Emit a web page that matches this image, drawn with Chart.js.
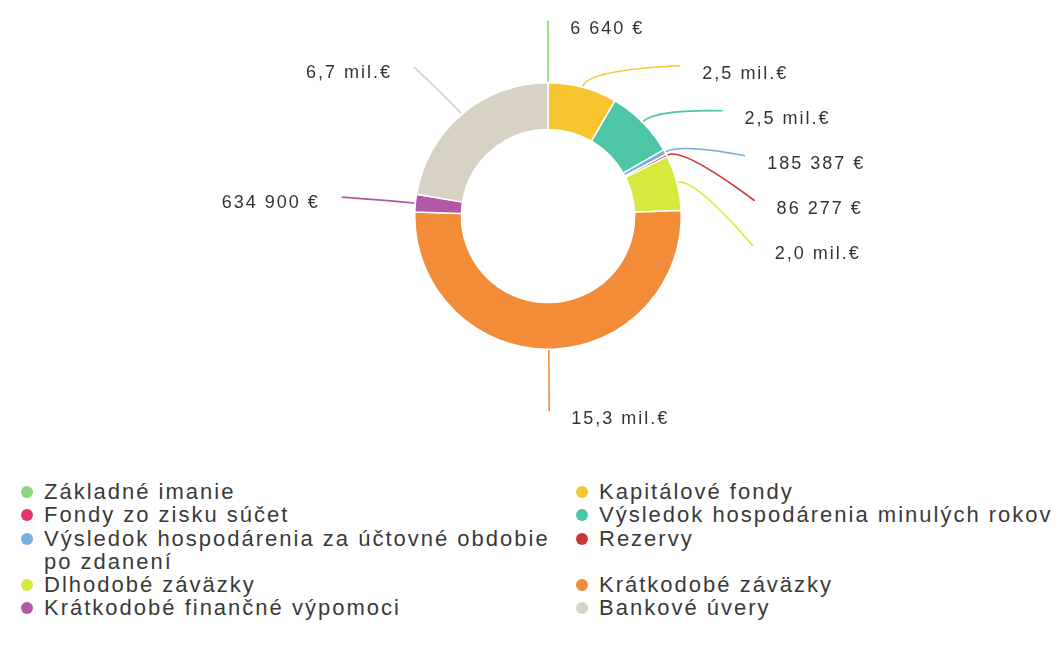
<!DOCTYPE html>
<html>
<head>
<meta charset="utf-8">
<script src="https://cdn.jsdelivr.net/npm/chart.js@4"></script>
<style>
    body { margin: 0; background: #ffffff; }
    #wrap { position: absolute; left: 0; top: 0; width: 1059px; height: 470px; }
    #legend {
        position: absolute; left: 20px; top: 480px; width: 1040px;
        display: grid; grid-template-columns: 555px 480px;
        font-family: 'Liberation Sans', Arial, sans-serif; font-size: 22px;
        letter-spacing: 2px; line-height: 23.3px; color: #3a3a3a;
    }
    .item { position: relative; padding-left: 24px; }
    .dot { position: absolute; left: 1px; top: 6px; width: 12px; height: 12px; border-radius: 50%; }
</style>
</head>
<body>
<div id="wrap"><canvas id="pasivaChart" width="1059" height="470"></canvas></div>
<div id="legend"></div>
<script>
// Štruktúra pasív (údaje odčítané z grafu)
const categories = [
    'Základné imanie',
    'Kapitálové fondy',
    'Fondy zo zisku súčet',
    'Výsledok hospodárenia minulých rokov',
    'Výsledok hospodárenia za účtovné obdobie po zdanení',
    'Rezervy',
    'Dlhodobé záväzky',
    'Krátkodobé záväzky',
    'Krátkodobé finančné výpomoci',
    'Bankové úvery'
];
const values = [6640, 2500000, 0, 2500000, 185387, 86277, 2000000, 15300000, 634900, 6700000];
const colors = ['#8fd47c', '#f6c530', '#e4336c', '#4cc6a6', '#78aedb', '#cc3636', '#d5ea3c', '#f28c39', '#b158a6', '#d8d2c5'];

const FONT = "'Liberation Sans', Arial, sans-serif";

function formatEur(v) {
    if (v >= 1000000) return (v / 1000000).toFixed(1).replace('.', ',') + ' mil.€';
    return String(v).replace(/\B(?=(\d{3})+(?!\d))/g, ' ') + ' €';
}

// popisky mimo prstenca s vodiacimi čiarami
const outLabels = {
    id: 'outLabels',
    afterDraw(chart) {
        const ctx = chart.ctx;
        const arcs = chart.getDatasetMeta(0).data;
        const items = [];
        arcs.forEach((arc, i) => {
            if (!values[i]) return;
            const a = (arc.startAngle + arc.endAngle) / 2;
            const R = arc.outerRadius;
            const rx = R + 74, ry = R + 62;
            items.push({
                i, a, R, cx: arc.x, cy: arc.y, rx, ry,
                right: Math.cos(a) >= -0.01,
                y: arc.y + Math.sin(a) * ry
            });
        });
        // rozostup na pravej strane
        const rightSide = items.filter(d => d.right).sort((p, q) => p.y - q.y);
        for (let k = 1; k < rightSide.length; k++) {
            if (rightSide[k].y < rightSide[k - 1].y + 45) rightSide[k].y = rightSide[k - 1].y + 45;
        }
        ctx.save();
        ctx.font = '18px ' + FONT;
        ctx.letterSpacing = '2px';
        ctx.textBaseline = 'middle';
        items.forEach(d => {
            const dy = d.y - d.cy;
            const t = Math.max(0, 1 - (dy / d.ry) * (dy / d.ry));
            const sx = d.right ? 1 : -1;
            const ex = d.cx + sx * d.rx * Math.sqrt(t);
            const ey = d.y;
            const px = d.cx + Math.cos(d.a) * (d.R + 1), py = d.cy + Math.sin(d.a) * (d.R + 1);
            const qx = d.cx + Math.cos(d.a) * (d.R + 18), qy = d.cy + Math.sin(d.a) * (d.R + 18);
            ctx.strokeStyle = colors[d.i];
            ctx.lineWidth = 1.6;
            ctx.beginPath();
            ctx.moveTo(px, py);
            ctx.quadraticCurveTo(qx, qy, ex, ey);
            ctx.stroke();
            ctx.fillStyle = '#333333';
            if (d.right) {
                ctx.textAlign = 'left';
                ctx.fillText(formatEur(values[d.i]), ex + 22, ey + 8);
            } else {
                ctx.textAlign = 'right';
                ctx.fillText(formatEur(values[d.i]), ex - 22, ey + 6);
            }
        });
        ctx.restore();
    }
};

const chart = new Chart(document.getElementById('pasivaChart'), {
    type: 'doughnut',
    data: {
        labels: categories,
        datasets: [{
            data: values,
            backgroundColor: colors,
            borderColor: '#ffffff',
            borderWidth: 1.5
        }]
    },
    options: {
        responsive: false,
        animation: false,
        cutout: '65%',
        layout: { padding: { left: 200, right: 163, top: 82, bottom: 120 } },
        plugins: {
            legend: { display: false },
            tooltip: { enabled: false }
        }
    },
    plugins: [outLabels]
});

// HTML legenda (dva stĺpce, riadok po riadku)
const legendEl = document.getElementById('legend');
categories.forEach((name, i) => {
    const el = document.createElement('div');
    el.className = 'item';
    el.innerHTML = '<span class="dot" style="background:' + colors[i] + '"></span>' + name;
    legendEl.appendChild(el);
});
</script>
</body>
</html>
